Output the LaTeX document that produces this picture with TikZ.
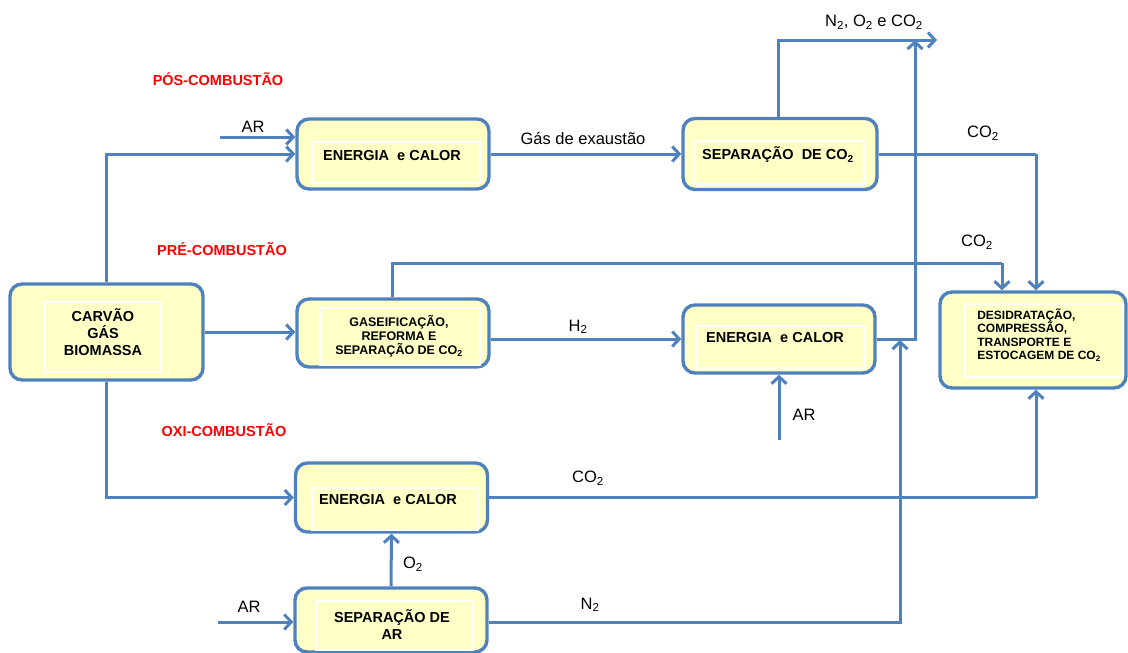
\documentclass[tikz,border=0pt]{standalone}
\usepackage{fontspec}
\setmainfont{Liberation Sans}
\usetikzlibrary{arrows.meta}
\definecolor{bl}{HTML}{4F81BD}
\definecolor{by}{HTML}{FFFFC6}
\begin{document}
\begin{tikzpicture}[x=1pt,y=-1pt,
  box/.style={draw=bl,line width=3.4pt,fill=by,rounded corners=12pt,inner sep=0pt,align=center,
    font=\fontsize{14.5}{17}\selectfont\bfseries},
  small/.style={font=\fontsize{12}{13.6}\selectfont\bfseries},
  inner/.style={draw=white,line width=1.2pt},
  flow/.style={draw=bl,line width=3pt,-{Straight Barb[length=7pt,width=15pt]}},
  line/.style={draw=bl,line width=3pt},
  lab/.style={font=\fontsize{16.5}{19}\selectfont,inner sep=0pt},
  sect/.style={font=\fontsize{14.5}{17}\selectfont\bfseries,text=red,inner sep=0pt}]
\useasboundingbox (0,0) rectangle (1128,653);

% boxes
\node[box,minimum width=193pt,minimum height=96pt] (carvao) at (106.5,332) {};
\node[box,minimum width=192pt,minimum height=70pt] (e1) at (393,154) {};
\node[box,minimum width=194pt,minimum height=71pt] (sep) at (780,154) {};
\node[box,minimum width=192pt,minimum height=68pt] (gas) at (393,333) {};
\node[box,minimum width=192pt,minimum height=68pt] (e2) at (779,339) {};
\node[box,minimum width=186pt,minimum height=96pt] (des) at (1033,340) {};
\node[box,minimum width=192pt,minimum height=69pt] (e3) at (391.5,497.5) {};
\node[box,minimum width=192pt,minimum height=64pt] (sar) at (391,620) {};

% inner frames
\draw[inner] (45,302) rectangle (161,372);
\draw[inner] (313,142) rectangle (480,183);
\draw[inner] (694,141) rectangle (864,184);
\draw[inner] (320,308) rectangle (480,365);
\draw[inner] (697,326) rectangle (865,368);
\draw[inner] (965,304) rectangle (1123,377);
\draw[inner] (312,488) rectangle (478,530);
\draw[inner] (316,601) rectangle (473,650);

% box texts
\node[box,draw=none,fill=none] (tcarvao) at (103,332) {CARVÃO\\GÁS\\BIOMASSA};
\node[box,draw=none,fill=none] (te1) at (392,156) {ENERGIA\ \ e CALOR};
\node[box,draw=none,fill=none] (tsep) at (778,155) {SEPARAÇÃO\ \ DE CO\textsubscript{2}};
\node[box,draw=none,fill=none,small,font=\fontsize{12.5}{14}\selectfont\bfseries] (tgas) at (399,336) {GASEIFICAÇÃO,\\REFORMA E\\SEPARAÇÃO DE CO\textsubscript{2}};
\node[box,draw=none,fill=none] (te2) at (775,338) {ENERGIA\ \ e CALOR};
\node[box,draw=none,fill=none,small,align=left] (tdes) at (1039,335) {DESIDRATAÇÃO,\\COMPRESSÃO,\\TRANSPORTE E\\ESTOCAGEM DE CO\textsubscript{2}};
\node[box,draw=none,fill=none] (te3) at (388,500) {ENERGIA\ \ e CALOR};
\node[box,draw=none,fill=none] (tsar) at (392,625) {SEPARAÇÃO DE\\AR};

% section labels
\node[sect] (pos) at (218,79) {PÓS-COMBUSTÃO};
\node[sect] (pre) at (222,249) {PRÉ-COMBUSTÃO};
\node[sect] (oxi) at (224,430) {OXI-COMBUSTÃO};

% coordinates
\coordinate (ar1) at (220,137);
\coordinate (out) at (937,40);
\coordinate (c2) at (1002,263);
\coordinate (v) at (915,40);
\coordinate (ar2) at (779,440);
\coordinate (ar3) at (218,622);
\coordinate (n2) at (900,340);
\coordinate (c5) at (1036,154);
\coordinate (c12) at (1036,497.5);

% connectors
\draw[flow] (carvao.north) |- (e1.west);
\draw[flow] (ar1) -- (ar1 -| e1.west);
\draw[flow] (e1.east) -- (sep.west);
\draw[flow] (sep.north -| 778,0) |- (out);
\draw[line] (sep.east) -- (c5);
\draw[flow] (c5) -- (c5 |- des.north);
\draw[line] (gas.north -| 392,0) |- (c2);
\draw[flow] (c2) -- (c2 |- des.north);
\draw[flow] (carvao.east) -- (carvao.east -| gas.west);
\draw[flow] (e2.west -| gas.east) -- (e2.west);
\draw[flow] (ar2) -- (e2.south);
\draw[flow] (e2.east) -| (v);
\draw[flow] (carvao.south) |- (e3.west);
\draw[line] (e3.east) -- (c12);
\draw[flow] (c12) -- (c12 |- des.south);
\draw[flow] (sar.north) -- (e3.south);
\draw[flow] (ar3) -- (ar3 -| sar.west);
\draw[flow] (sar.east |- ar3) -| (n2);

% labels
\node[lab] (lar1) at (253,127) {AR};
\node[lab] (lgas) at (583,139) {Gás de exaustão};
\node[lab] (lout) at (874,22) {N\textsubscript{2}, O\textsubscript{2} e CO\textsubscript{2}};
\node[lab] (lco1) at (983,133) {CO\textsubscript{2}};
\node[lab] (lco2) at (977,242) {CO\textsubscript{2}};
\node[lab] (lh2) at (578,327) {H\textsubscript{2}};
\node[lab] (lar2) at (804,415) {AR};
\node[lab] (lco3) at (588,478) {CO\textsubscript{2}};
\node[lab] (lo2) at (413,564) {O\textsubscript{2}};
\node[lab] (lar3) at (249,607) {AR};
\node[lab] (ln2) at (590,605) {N\textsubscript{2}};
\end{tikzpicture}
\end{document}
